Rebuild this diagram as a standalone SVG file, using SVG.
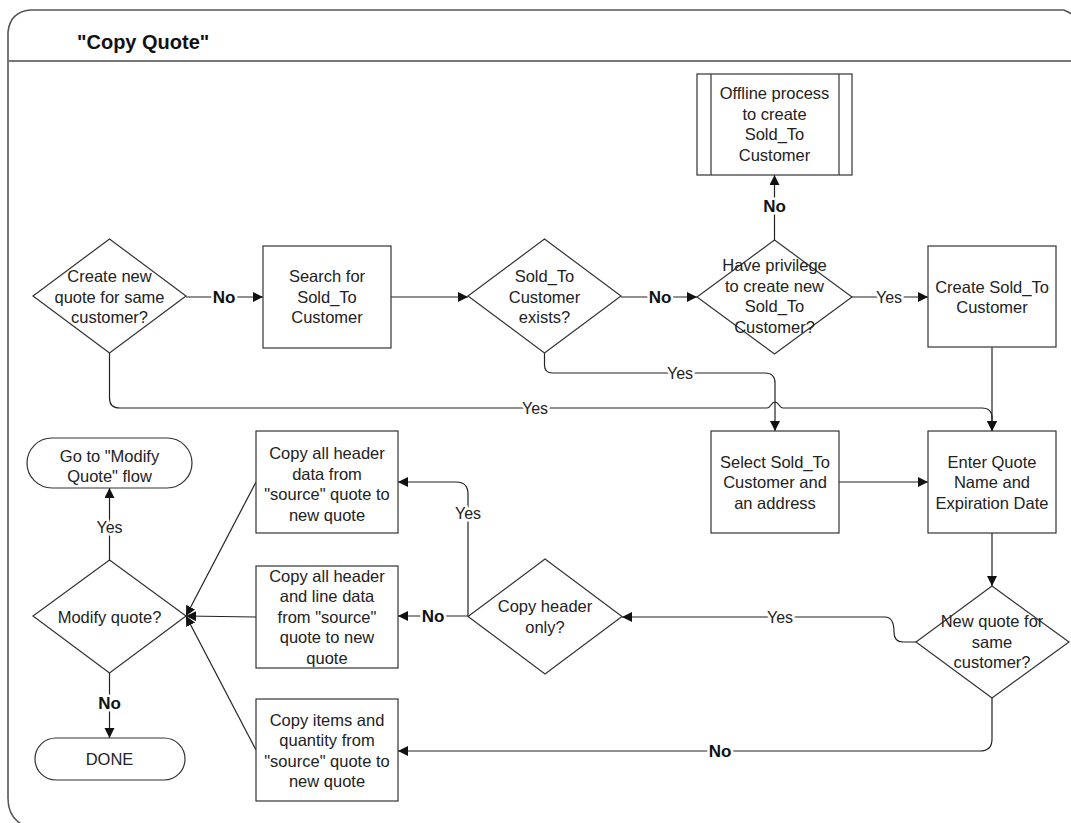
<svg xmlns="http://www.w3.org/2000/svg" width="1071" height="823" viewBox="0 0 1071 823">
<defs>
<marker id="arr" markerUnits="userSpaceOnUse" markerWidth="11" markerHeight="11" refX="10" refY="5" orient="auto">
<path d="M0,0 L10,5 L0,10 z" fill="#111"/>
</marker>
<style>
.shape{fill:#fff;stroke:#333;stroke-width:1.2}
.t{font-family:"Liberation Sans",Arial,sans-serif;font-size:16.5px;fill:#222;text-anchor:middle;dominant-baseline:central}
.c{fill:none;stroke:#222;stroke-width:1.2}
.ca{fill:none;stroke:#222;stroke-width:1.2;marker-end:url(#arr)}
.lbl{font-family:"Liberation Sans",Arial,sans-serif;font-size:16px;fill:#222;text-anchor:middle;dominant-baseline:central;stroke:#fff;stroke-width:5;paint-order:stroke;stroke-linejoin:round}
.lb{font-weight:bold;font-size:17px;fill:#111}
</style>
</defs>
<rect x="0" y="0" width="1071" height="823" fill="#fff"/>
<g id="frame">
<path d="M40,830 Q8,826 8,798 L8,32 Q10,12 30,10 L1064,10 L1078,17" fill="none" stroke="#555" stroke-width="1.6"/>
<line x1="8" y1="61" x2="1071" y2="61" stroke="#777" stroke-width="2"/>
<text x="77" y="49" font-family="'Liberation Sans',Arial,sans-serif" font-size="20" font-weight="bold" fill="#111">"Copy Quote"</text>
</g>
<g id="connectors">
<path class="ca" d="M186,297 L263,297"/>
<path class="ca" d="M391,297 L468,297"/>
<path class="ca" d="M621,297 L697,297"/>
<path class="ca" d="M774.5,240 L774.5,175"/>
<path class="ca" d="M852,297 L928,297"/>
<path class="ca" d="M992,347 L992,431"/>
<path class="ca" d="M544.5,353 L544.5,365 Q544.5,373 552.5,373 L765,373 Q775,373 775,383 L775,431"/>
<path class="ca" d="M109.5,353 L109.5,398 Q109.5,408 119.5,408 L767,408 C771,408 771,402 775,402 C779,402 779,408 783,408 L982,408 Q992,408 992,418 L992,431"/>
<path class="ca" d="M839,482 L928,482"/>
<path class="ca" d="M992,533 L992,586"/>
<path class="ca" d="M916,642 L903,642 C897,642 894,638 894,632 C894,622 891,617 885,617 L622,617"/>
<path class="ca" d="M468,616 L398,616"/>
<path class="ca" d="M468,616 L468,494 Q468,482 456,482 L398,482"/>
<path class="ca" d="M992,698 L992,739 Q992,751 980,751 L398,751"/>
<path class="ca" d="M256,482 L186,616"/>
<path class="ca" d="M256,617 L186,616"/>
<path class="ca" d="M256,750 L186,616"/>
<path class="ca" d="M109.5,560 L109.5,488"/>
<path class="ca" d="M109.5,673 L109.5,738"/>
<text class="lbl lb" x="224" y="297">No</text>
<text class="lbl lb" x="660" y="297">No</text>
<text class="lbl lb" x="774.5" y="206">No</text>
<text class="lbl" x="889" y="297">Yes</text>
<text class="lbl" x="680" y="373">Yes</text>
<text class="lbl" x="535" y="408">Yes</text>
<text class="lbl" x="780" y="617">Yes</text>
<text class="lbl lb" x="433" y="616">No</text>
<text class="lbl" x="468" y="513">Yes</text>
<text class="lbl lb" x="720" y="751">No</text>
<text class="lbl" x="109.5" y="527">Yes</text>
<text class="lbl lb" x="109.5" y="703">No</text>
</g>
<g id="d-create-new">
<polygon class="shape" points="109.5,239 186,296 109.5,353 33,296"/>
<text class="t" x="109.5" y="276">Create new</text>
<text class="t" x="109.5" y="296.5">quote for same</text>
<text class="t" x="109.5" y="317">customer?</text>
</g>
<g id="search">
<rect class="shape" x="263" y="246" width="128" height="102"/>
<text class="t" x="327" y="276">Search for</text>
<text class="t" x="327" y="296.5">Sold_To</text>
<text class="t" x="327" y="317">Customer</text>
</g>
<g id="d-exists">
<polygon class="shape" points="544.5,239 621,296 544.5,353 468,296"/>
<text class="t" x="544.5" y="276">Sold_To</text>
<text class="t" x="544.5" y="296.5">Customer</text>
<text class="t" x="544.5" y="317">exists?</text>
</g>
<g id="d-privilege">
<polygon class="shape" points="774.5,240 852,297 774.5,354 697,297"/>
<text class="t" x="774.5" y="265">Have privilege</text>
<text class="t" x="774.5" y="285.5">to create new</text>
<text class="t" x="774.5" y="306">Sold_To</text>
<text class="t" x="774.5" y="326.5">Customer?</text>
</g>
<g id="offline">
<rect class="shape" x="697" y="74" width="155" height="101"/>
<line x1="711" y1="74" x2="711" y2="175" stroke="#333" stroke-width="1.2"/>
<line x1="839" y1="74" x2="839" y2="175" stroke="#333" stroke-width="1.2"/>
<text class="t" x="774.5" y="93">Offline process</text>
<text class="t" x="774.5" y="113.5">to create</text>
<text class="t" x="774.5" y="134">Sold_To</text>
<text class="t" x="774.5" y="154.5">Customer</text>
</g>
<g id="create-sold-to">
<rect class="shape" x="928" y="246" width="128" height="101"/>
<text class="t" x="992" y="286.5">Create Sold_To</text>
<text class="t" x="992" y="307">Customer</text>
</g>
<g id="select-sold-to">
<rect class="shape" x="711" y="431" width="128" height="102"/>
<text class="t" x="775" y="461.5">Select Sold_To</text>
<text class="t" x="775" y="482">Customer and</text>
<text class="t" x="775" y="502.5">an address</text>
</g>
<g id="enter-quote">
<rect class="shape" x="928" y="431" width="128" height="102"/>
<text class="t" x="992" y="461.5">Enter Quote</text>
<text class="t" x="992" y="482">Name and</text>
<text class="t" x="992" y="502.5">Expiration Date</text>
</g>
<g id="d-new-quote">
<polygon class="shape" points="992,586 1069,642 992,698 916,642"/>
<text class="t" x="992" y="621">New quote for</text>
<text class="t" x="992" y="641.5">same</text>
<text class="t" x="992" y="662">customer?</text>
</g>
<g id="d-header-only">
<polygon class="shape" points="545,559 622,616.5 545,674 468,616.5"/>
<text class="t" x="545" y="606">Copy header</text>
<text class="t" x="545" y="626.5">only?</text>
</g>
<g id="copy-header">
<rect class="shape" x="256" y="431" width="142" height="102"/>
<text class="t" x="327" y="453">Copy all header</text>
<text class="t" x="327" y="473.5">data from</text>
<text class="t" x="327" y="494">"source" quote to</text>
<text class="t" x="327" y="514.5">new quote</text>
</g>
<g id="copy-header-line">
<rect class="shape" x="256" y="566" width="142" height="102"/>
<text class="t" x="327" y="575.5">Copy all header</text>
<text class="t" x="327" y="596">and line data</text>
<text class="t" x="327" y="616.5">from "source"</text>
<text class="t" x="327" y="637">quote to new</text>
<text class="t" x="327" y="657.5">quote</text>
</g>
<g id="copy-items">
<rect class="shape" x="256" y="699" width="142" height="102"/>
<text class="t" x="327" y="719.5">Copy items and</text>
<text class="t" x="327" y="740">quantity from</text>
<text class="t" x="327" y="760.5">"source" quote to</text>
<text class="t" x="327" y="781">new quote</text>
</g>
<g id="d-modify">
<polygon class="shape" points="109.5,560 186,616 109.5,673 33,616"/>
<text class="t" x="109.5" y="616.5">Modify quote?</text>
</g>
<g id="goto-modify">
<rect class="shape" x="27" y="438" width="165" height="50" rx="25" ry="25"/>
<text class="t" x="109.5" y="455.5">Go to "Modify</text>
<text class="t" x="109.5" y="476">Quote" flow</text>
</g>
<g id="done">
<rect class="shape" x="35" y="738" width="150" height="42" rx="21" ry="21"/>
<text class="t" x="109.5" y="759">DONE</text>
</g>
</svg>
